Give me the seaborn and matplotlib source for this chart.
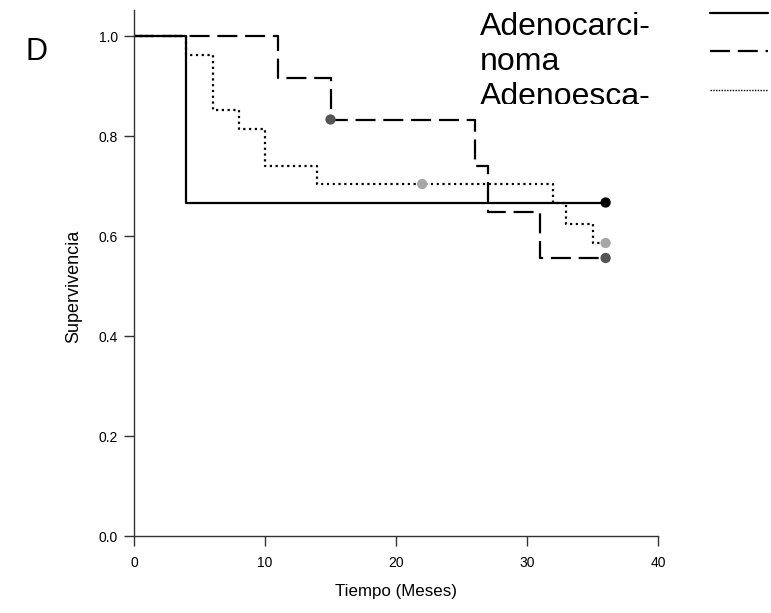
import numpy as np
import pandas as pd
import matplotlib
matplotlib.use("Agg")
import matplotlib.pyplot as plt
import seaborn as sns
from matplotlib.lines import Line2D
from matplotlib.transforms import Bbox

# ---- data ----
group_names = ["Adenocarcinoma", "Adenoescamoso", "Otro"]
legend_text = "Adenocarci-\nnoma\nAdenoesca-"

t_solid = [0, 4, 36]
s_solid = [1.0, 0.667, 0.667]
t_dash = [0, 11, 15, 26, 27, 31, 36]
s_dash = [1.0, 0.917, 0.833, 0.741, 0.648, 0.556, 0.556]
t_dot = [0, 4, 6, 8, 10, 14, 32, 33, 35, 36]
s_dot = [1.0, 0.963, 0.852, 0.815, 0.741, 0.704, 0.667, 0.625, 0.586, 0.586]

cens_solid_t = [36]
cens_solid_s = [0.667]
cens_dash_t = [15, 36]
cens_dash_s = [0.833, 0.556]
cens_dot_t = [22, 36]
cens_dot_s = [0.704, 0.586]

x_ticks = [0, 10, 20, 30, 40]
y_ticks = [0.0, 0.2, 0.4, 0.6, 0.8, 1.0]
x_label = "Tiempo (Meses)"
y_label = "Supervivencia"
panel_label = "D"

# ---- frames ----
curves = pd.concat([
    pd.DataFrame({"t": t_solid, "s": s_solid, "g": group_names[0]}),
    pd.DataFrame({"t": t_dash, "s": s_dash, "g": group_names[1]}),
    pd.DataFrame({"t": t_dot, "s": s_dot, "g": group_names[2]}),
], ignore_index=True)
cens = pd.concat([
    pd.DataFrame({"t": cens_solid_t, "s": cens_solid_s, "g": group_names[0]}),
    pd.DataFrame({"t": cens_dash_t, "s": cens_dash_s, "g": group_names[1]}),
    pd.DataFrame({"t": cens_dot_t, "s": cens_dot_s, "g": group_names[2]}),
], ignore_index=True)

sns.set_theme(style="white")
plt.rcParams["font.family"] = ["Liberation Sans", "DejaVu Sans"]

fig = plt.figure(figsize=(7.71, 6.13), dpi=100)
ax = fig.add_axes([134 / 771, 1 - 536 / 613, (658 - 134) / 771, (536 - 10) / 613])

DASH = (9, 3.5)
DOT = (1, 1.6)
line_pal = {group_names[0]: "black", group_names[1]: "black", group_names[2]: "black"}
dash_map = {group_names[0]: "", group_names[1]: DASH, group_names[2]: DOT}
sns.lineplot(data=curves, x="t", y="s", hue="g", style="g", palette=line_pal,
             dashes=dash_map, estimator=None, sort=False, drawstyle="steps-post",
             linewidth=1.6, legend=False, ax=ax)

cens_pal = {group_names[0]: "#000000", group_names[1]: "#555555", group_names[2]: "#a6a6a6"}
sns.scatterplot(data=cens, x="t", y="s", hue="g", palette=cens_pal, s=55,
                edgecolor="none", legend=False, ax=ax, zorder=5, clip_on=False)

ax.set_xlim(0, 40)
ax.set_ylim(0, 1.052)
ax.set_xticks(x_ticks)
ax.set_xticklabels([str(v) for v in x_ticks])
ax.set_yticks(y_ticks)
ax.set_yticklabels([f"{v:.1f}" for v in y_ticks])
for side in ["top", "right"]:
    ax.spines[side].set_visible(False)
for side in ["left", "bottom"]:
    ax.spines[side].set_color("#333333")
    ax.spines[side].set_linewidth(1.0)
ax.tick_params(axis="both", which="major", direction="out", length=7.5, width=1.0,
               color="#333333", labelsize=10, labelcolor="black",
               bottom=True, left=True)
ax.tick_params(axis="y", pad=4)
ax.tick_params(axis="x", pad=7)
ax.set_xlabel(x_label, fontsize=12.2, color="black")
ax.set_ylabel(y_label, fontsize=13, color="black")
ax.xaxis.set_label_coords(0.5, -48 / 526)
ax.yaxis.set_label_coords(-52 / 524, 0.5 / 1.052)
ax.grid(False)

fig.text(25 / 771, 1 - 60 / 613, panel_label, fontsize=22, color="black", ha="left", va="baseline")

# legend (decoration); the reference clips its third line
lt = fig.text(480 / 771, 1 - 12 / 613, legend_text, fontsize=23, color="black",
              ha="left", va="top", linespacing=1.22)
lt.set_clip_box(Bbox.from_extents(0, 613 - 104, 771, 613))
lt.set_clip_on(True)
for yy, ls, lw in [(13, "-", 1.6), (51, (0, DASH), 1.6), (90, (0, (1, 1.0)), 1.0)]:
    fig.add_artist(Line2D([710 / 771, 768 / 771], [1 - yy / 613, 1 - yy / 613],
                          transform=fig.transFigure, color="black", linewidth=lw,
                          linestyle=ls))

fig.savefig("out.png", dpi=100, facecolor="white")
